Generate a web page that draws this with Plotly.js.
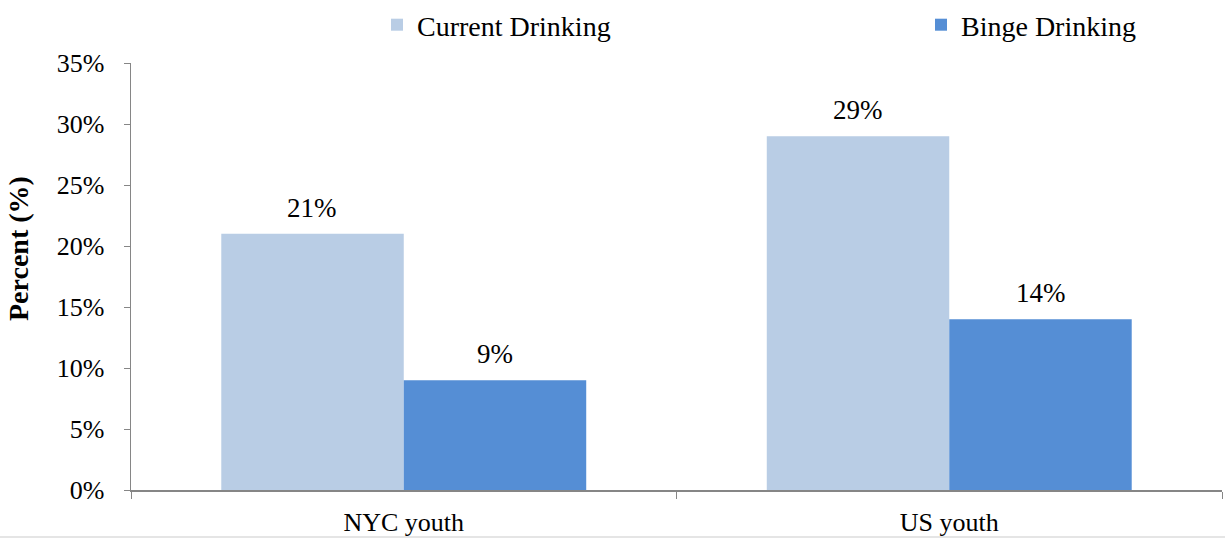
<!DOCTYPE html>
<html><head><meta charset="utf-8">
<script src="https://cdn.plot.ly/plotly-3.0.1.min.js"></script>
<style>html,body{margin:0;padding:0;background:#fff}#chart{width:1225px;height:540px}</style>
</head><body><div id="chart"></div>
<script>
const categories = ["NYC youth", "US youth"];
const seriesNames = ["Current Drinking", "Binge Drinking"];
const currentDrinking = [21, 29];
const bingeDrinking = [9, 14];
const yTickVals = [0, 5, 10, 15, 20, 25, 30, 35];
const yTickText = ["0%", "5%", "10%", "15%", "20%", "25%", "30%", "35%"];
const yAxisTitle = "Percent (%)";

const FONT = "Liberation Serif, serif";
const colors = ["#B9CDE5", "#558ED5"];
const seriesVals = [currentDrinking, bingeDrinking];
const legendIds = ["legend", "legend2"];

const traces = seriesVals.map((vals, i) => ({
  type: "bar", name: seriesNames[i], x: categories, y: vals,
  marker: {color: colors[i], line: {width: 0}},
  legend: legendIds[i], hoverinfo: "none"
}));

const annotations = [];
seriesVals.forEach((vals, i) => {
  vals.forEach((v, j) => {
    annotations.push({
      x: categories[j], y: v, xref: "x", yref: "y",
      xshift: (i === 0 ? -91.5 : 91.5),
      yshift: 26, text: v + "%", showarrow: false,
      font: {family: FONT, size: 27, color: "#000"}
    });
  });
});
annotations.push({
  xref: "paper", yref: "paper", x: (18 - 131) / 1091, y: (490 - 249) / 427,
  xanchor: "center", yanchor: "middle", textangle: -90, showarrow: false,
  text: "<b>" + yAxisTitle + "</b>", font: {family: FONT, size: 28, color: "#000"}
});

const legendBase = {
  orientation: "h", xanchor: "left", yanchor: "top", y: 1,
  xref: "container", yref: "container", bgcolor: "rgba(0,0,0,0)",
  font: {family: FONT, size: 28, color: "#000"}, itemsizing: "constant"
};

const layout = {
  width: 1225, height: 540,
  margin: {l: 131, r: 3, t: 63, b: 50},
  paper_bgcolor: "#fff", plot_bgcolor: "#fff",
  barmode: "group", bargap: 0.331, bargroupgap: 0,
  font: {family: FONT, size: 26, color: "#000"},
  showlegend: true,
  legend: Object.assign({}, legendBase, {x: 377 / 1225}),
  legend2: Object.assign({}, legendBase, {x: 921 / 1225}),
  xaxis: {
    type: "category", tickson: "boundaries", ticks: "outside", ticklen: 7,
    tickcolor: "#868686", showline: true, linecolor: "#868686", linewidth: 1.5,
    showgrid: false, zeroline: false, tickfont: {family: FONT, size: 26},
    ticklabelstandoff: 8, range: [-0.5, 1.5]
  },
  yaxis: {
    range: [0, 35], tickvals: yTickVals, ticktext: yTickText,
    ticks: "outside", ticklen: 6, tickcolor: "#868686",
    showline: true, linecolor: "#868686", linewidth: 1.5,
    showgrid: false, zeroline: false, tickfont: {family: FONT, size: 26},
    ticklabelstandoff: 14
  },
  annotations: annotations,
  shapes: [{type: "line", xref: "paper", yref: "paper", x0: -131 / 1091, x1: 1 + 3 / 1091,
    y0: -47 / 427, y1: -47 / 427, line: {color: "#DCDCDC", width: 1.5}}]
};
Plotly.newPlot("chart", traces, layout, {displayModeBar: false, staticPlot: true});
</script></body></html>
